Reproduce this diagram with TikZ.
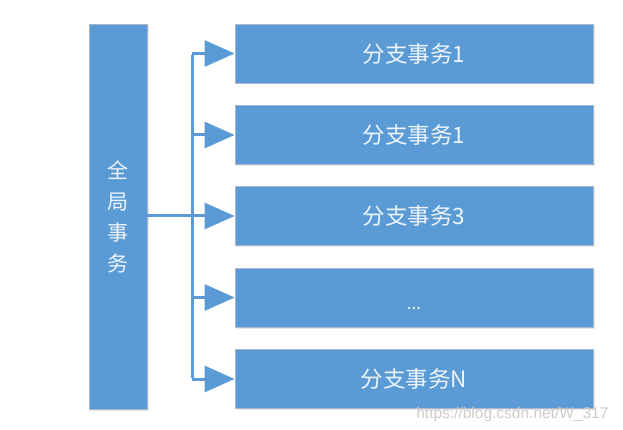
\documentclass[tikz,border=0pt]{standalone}
\usepackage{fontspec}
\newfontfamily\cjk{Noto Sans CJK SC}
\newfontfamily\wmfont{Liberation Sans}
\usetikzlibrary{arrows.meta,shadows}
\definecolor{boxblue}{HTML}{5B9BD5}
\definecolor{boxedge}{HTML}{A7B7C7}
\definecolor{txtw}{HTML}{EEF4FB}
\definecolor{lineblue}{HTML}{5B9BD5}
\tikzset{
  box/.style={fill=boxblue, draw=boxedge, line width=0.8pt, inner sep=0pt,
    text=txtw, font=\cjk\fontsize{22.5}{26}\selectfont,
    drop shadow={shadow xshift=1.5pt, shadow yshift=-1.5pt, opacity=0.18, fill=gray}},
  branch/.style={box, minimum width=358pt, minimum height=59pt},
  conn/.style={draw=lineblue, line width=3pt},
  arr/.style={conn, -{Triangle[length=30pt,width=26pt]}},
}
\begin{document}
\begin{tikzpicture}[x=1pt,y=-1pt]
\useasboundingbox (0,0) rectangle (623,430);
\fill[white] (0,0) rectangle (623,430);
\node[box, minimum width=58pt, minimum height=385pt, align=center,
  font=\cjk\fontsize{21}{31}\selectfont] (g) at (118,216.5) {全\\局\\事\\务};
\node[branch] (b1) at (414,53.5) {分支事务1};
\node[branch] (b2) at (414,135) {分支事务1};
\node[branch] (b3) at (414,216) {分支事务3};
\node[branch, font=\cjk\fontsize{17}{20}\selectfont] (b4) at (414,297.5) {\raisebox{-12pt}[0pt][0pt]{...}};
\node[branch] (b5) at (414,379) {分支事务N};
\coordinate (t) at (192,216);
\draw[conn, line join=miter] ([yshift=-1.5pt]t |- b1) -- ([yshift=1.5pt]t |- b5);
\draw[arr] (g.east |- b3) -- (b3.west);
\draw[arr] (t |- b1) -- (b1.west);
\draw[arr] (t |- b2) -- (b2.west);
\draw[arr] (t |- b4) -- (b4.west);
\draw[arr] (t |- b5) -- (b5.west);
\node[text=gray!40, font=\wmfont\fontsize{15.5}{18}\selectfont, anchor=base east] (wm) at (612,418) {https://blog.csdn.net/W\_317};
\end{tikzpicture}
\end{document}
